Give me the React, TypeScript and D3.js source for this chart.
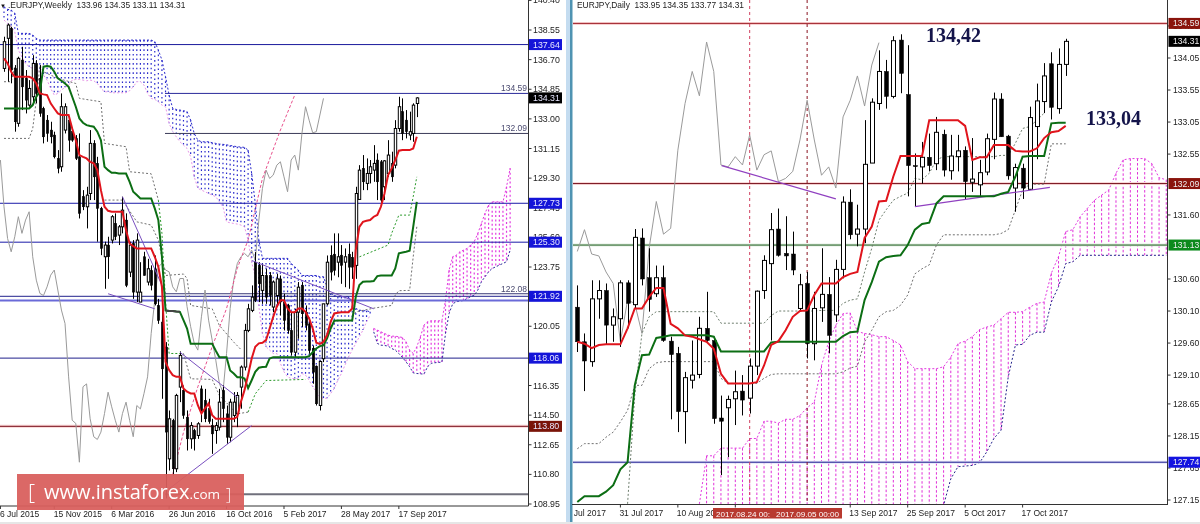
import React from 'react';
import * as d3 from 'd3';

type Bar = [number, number, number, number];
type Pt = [number, number];

// ---------- weekly panel data: [open, high, low, close] ----------
const weeklyBars: Bar[] = [
[136.15,138.13,135.94,137.82],[138.03,138.96,135.32,138.86],[138.65,138.75,135.22,136.05],[136.15,136.36,132.2,132.82],
[132.72,136.88,132.51,136.78],[136.67,137.5,133.55,135.0],[135.53,136.05,133.34,134.17],[133.86,135.42,133.76,134.9],
[134.38,136.98,133.97,136.46],[136.46,136.67,133.97,134.59],[135.53,136.36,133.13,133.34],[133.65,133.76,131.47,131.88],
[132.92,133.24,131.57,132.09],[132.3,132.82,131.47,131.88],[131.99,132.2,130.53,130.63],[130.53,131.05,129.6,129.91],
[130.01,134.59,129.7,133.76],[132.3,133.97,132.09,133.76],[132.92,133.13,130.95,131.67],[132.2,132.4,131.57,131.67],
[131.78,131.99,130.43,130.53],[130.63,132.09,126.78,127.1],[128.14,128.55,127.3,127.51],[127.51,128.76,126.16,128.24],
[128.34,132.3,127.93,131.47],[131.47,131.67,127.93,129.38],[130.22,130.63,125.33,127.41],[127.41,127.51,124.49,124.91],
[124.39,125.33,122.39,125.12],[125.12,125.64,123.01,124.39],[125.43,126.99,125.22,126.89],[126.47,127.1,125.43,125.64],
[125.74,126.37,125.12,126.26],[126.26,128.14,125.85,127.3],[126.68,127.1,122.49,122.6],[123.43,125.33,123.12,125.12],
[125.22,125.43,121.76,122.18],[122.18,125.85,121.56,125.43],[121.56,124.05,121.56,122.18],[124.39,124.7,123.22,123.22],
[122.81,124.26,122.6,123.64],[123.53,123.85,122.29,122.6],[123.64,124.47,121.35,121.45],[121.35,121.76,120.2,120.41],
[120.31,121.14,115.52,117.39],[118.75,119.06,109.3,113.44],[111.77,114.79,111.04,114.27],[114.16,114.27,110.73,111.15],
[111.15,115.83,110.94,115.73],[116.25,118.48,115.31,118.23],[116.04,116.35,114.27,114.48],[114.37,114.79,112.29,113.02],
[113.02,114.06,112.4,113.85],[113.54,113.65,112.29,113.02],[113.23,114.06,113.02,113.96],[116.14,116.35,114.06,114.69],
[115.41,116.14,114.06,114.27],[114.9,115.52,113.96,114.1],[113.85,114.27,112.08,113.33],[113.54,114.06,112.71,113.85],
[113.75,116.14,113.54,115.31],[116.04,116.35,114.06,114.9],[114.58,115.1,112.71,113.12],[113.12,115.52,112.81,115.31],
[114.48,115.94,114.06,115.31],[114.58,115.94,113.75,115.73],[116.25,117.6,114.9,117.5],[117.5,120.2,117.29,119.79],
[119.79,121.45,119.68,121.14],[121.04,122.6,120.93,121.87],[124.05,124.68,121.56,121.66],[123.85,124.05,121.56,122.7],
[122.29,123.95,121.45,123.22],[123.22,123.64,121.45,121.87],[123.22,123.43,121.35,121.97],[121.25,122.91,120.93,122.81],
[121.97,123.33,121.25,123.01],[123.01,123.22,120.72,121.56],[121.56,122.08,119.79,120.41],[121.35,121.45,119.58,119.79],
[119.79,120.93,118.22,118.43],[118.43,121.14,118.12,120.93],[120.93,122.81,119.27,122.49],[122.6,122.81,120.0,120.83],
[120.93,121.35,119.79,120.1],[120.2,120.41,118.33,118.54],[118.68,118.85,116.46,117.18],[117.56,117.6,115.1,115.21],
[115.1,117.91,114.79,117.85],[118.02,121.45,117.81,121.45],[121.45,124.47,121.35,124.05],[124.47,125.1,122.91,123.43],
[124.55,125.85,123.22,123.53],[124.05,125.85,123.11,124.39],[124.49,125.12,122.7,123.85],[124.05,124.91,122.49,124.39],
[124.55,125.22,122.39,123.74],[124.35,124.7,123.01,123.74],[123.85,128.76,123.01,128.34],[127.97,130.11,127.97,129.8],
[129.91,130.74,128.55,129.07],[128.97,130.53,128.55,129.59],[129.59,130.43,128.97,130.01],[129.8,131.36,129.07,130.22],
[130.43,130.84,127.93,129.07],[130.32,130.43,127.72,127.93],[128.76,130.43,127.93,130.38],[129.59,131.67,129.38,130.74],
[130.22,130.95,129.07,129.38],[130.11,132.92,129.91,132.4],[132.4,134.38,132.2,133.76],[133.45,134.28,131.67,132.09],
[132.92,133.55,131.78,132.2],[131.99,133.45,131.67,132.2],[132.09,133.97,131.57,133.86],[133.96,134.35,133.11,134.31],
];
const weeklyTenkan = [136.78,136.46,135.94,135.63,135.63,135.63,135.63,135.63,135.53,135.21,134.59,134.53,134.49,133.97,133.65,133.34,133.24,133.24,133.24,132.4,131.67,130.74,130.63,130.53,130.32,130.22,129.8,128.55,127.51,127.26,127.2,127.2,127.2,127.2,126.05,125.22,125.05,124.91,124.91,124.91,124.91,124.91,124.39,123.76,122.51,117.83,117.31,117.0,116.89,116.89,116.16,115.96,115.85,115.85,115.12,114.6,114.92,115.23,114.5,114.27,114.27,114.27,114.27,114.27,114.27,114.39,115.33,116.06,117.0,118.04,118.77,118.98,119.02,119.18,119.91,120.64,121.27,121.68,121.68,121.16,120.93,120.93,121.16,121.16,120.95,120.54,119.91,119.02,118.95,119.08,119.5,120.33,120.85,120.89,120.93,120.93,120.93,121.16,124.8,126.26,126.57,126.64,126.68,126.89,127.0,127.51,128.34,129.49,129.91,130.43,131.01,131.05,131.05,131.05,131.15,131.88];
const weeklyKijun = [133.65,133.65,133.65,133.65,133.65,133.65,133.65,133.65,133.86,134.38,134.69,136.26,136.3,136.26,135.94,135.53,135.38,135.21,135.0,134.38,133.76,133.03,132.76,132.61,132.55,132.51,132.2,131.67,130.01,129.8,129.63,129.63,129.59,129.59,129.59,129.07,128.45,128.24,128.03,128.03,128.03,128.03,127.41,126.68,124.39,121.04,121.0,121.0,120.97,120.95,120.43,119.91,118.95,118.95,118.95,118.95,118.95,118.95,118.95,118.52,118.12,118.12,118.12,117.29,117.1,116.87,116.87,116.79,116.18,116.68,117.2,117.46,117.5,117.52,118.04,118.12,118.12,118.12,118.12,118.12,118.12,118.12,118.12,118.12,118.12,118.18,118.43,118.66,118.81,118.85,119.29,119.91,120.39,120.41,120.41,120.41,120.41,120.41,121.89,122.62,122.83,122.85,122.85,122.87,123.18,123.22,123.22,123.22,123.22,123.66,124.6,124.66,124.7,124.76,126.26,127.82];
const weeklyChikouStart = -1;
const weeklyChikou = [130.43,127.51,125.53,124.7,125.64,126.89,125.85,126.68,127.2,124.39,122.93,122.1,121.97,122.51,123.24,123.56,122.31,121.06,120.22,116.89,114.18,113.98,111.56,116.27,116.45,114.27,113.15,112.98,113.44,114.6,115.93,115.02,114.18,113.44,114.6,115.31,114.18,113.15,115.1,114.89,115.85,116.89,119.6,121.68,123.76,123.97,123.56,123.45,122.51,122.2,123.03,123.03,121.27,120.02,118.98,118.56,120.64,122.31,120.43,119.18,117.93,116.48,115.93,118.35,121.16,122.93,123.97,124.39,124.6,124.39,124.8,124.18,126.68,128.66,129.8,129.28,129.49,130.11,130.32,129.38,128.45,130.43,130.74,129.8,132.09,133.76,132.92,132.13,132.2,133.24,134.28];
const weeklyCloudTop = [140.0,139.84,139.8,139.59,138.34,138.34,138.34,138.34,138.23,138.03,137.92,137.92,137.92,137.92,137.92,137.92,137.92,137.92,137.92,137.92,137.92,137.92,137.92,137.92,137.92,137.92,137.92,137.92,137.92,137.92,137.92,137.92,137.92,137.92,137.92,137.92,137.92,137.92,137.92,137.92,137.92,137.92,137.82,137.3,136.67,135.63,134.49,133.65,133.59,133.55,133.51,133.45,132.92,132.09,131.67,131.57,131.57,131.57,131.51,131.47,131.43,131.41,131.38,131.34,131.3,131.26,131.24,131.22,131.05,129.59,127.72,125.43,124.29,124.29,124.29,124.29,124.29,124.29,124.29,124.29,123.97,123.76,123.56,123.22,123.22,123.22,123.22,123.22,123.14,123.14,122.51,122.1,121.97,121.89,121.89,121.89,121.89,121.58,121.16,121.06,121.02,121.02,120.95,119.91,119.81,119.7,119.6,119.5,119.43,119.43,119.39,119.35,119.08,118.56,118.35,118.77,119.39,120.12,120.33,120.39,120.39,120.39,120.39,121.68,123.56,124.39,124.49,124.7,124.8,124.91,125.12,125.33,125.85,126.47,127.1,127.62,127.82,127.82,127.82,127.82,128.76,129.91];
const weeklyCloudBottom = [139.17,138.96,138.75,138.44,137.3,136.88,136.46,136.26,136.15,136.05,135.94,135.74,135.42,134.9,134.49,134.59,134.8,134.97,135.11,135.42,135.46,135.46,135.42,135.38,135.42,135.38,135.21,134.9,134.69,134.69,134.63,134.63,134.63,134.63,134.63,134.76,135.0,135.32,135.32,135.11,134.59,134.28,134.22,134.07,133.86,133.76,132.72,132.2,131.88,131.57,131.36,131.15,130.63,129.38,128.66,128.55,128.45,128.34,128.24,128.14,127.82,127.51,126.57,126.51,126.47,126.43,126.37,126.26,125.43,124.05,123.14,121.27,119.6,118.77,118.56,118.35,118.35,117.73,117.2,116.89,116.79,116.79,116.77,117.1,117.0,116.68,116.27,115.96,115.64,115.54,115.56,115.85,116.16,116.68,117.1,117.62,118.14,118.56,118.98,119.39,119.81,120.33,120.74,119.7,118.98,118.87,118.85,118.81,118.66,118.56,118.35,118.1,117.83,117.52,117.14,117.1,117.08,117.06,117.52,117.73,117.77,117.79,117.81,119.6,120.85,121.45,121.58,121.62,121.66,121.78,121.89,121.99,122.31,122.83,123.14,123.45,123.66,123.76,123.87,123.97,124.08,124.8];
const weeklyBlueCloudEnd = 102;
const weeklyDashGrayA: Pt[] = [[0,131.78],[7,131.78],[8,132.4],[9,134.17],[10,136.36],[11,135.94],[15,135.53],[20,135.21],[21,134.28],[27,134.07],[28,131.47],[34,131.26],[35,129.7],[41,129.57],[43,127.93]];
const weeklyDashTop: Pt[] = [[0,135.32],[2,135.32],[3,136.26]];
const weeklyDashGreen: Pt[] = [[43,127.93],[44,125.85],[45,121.58],[46,118.35],[50,118.35]];
const weeklyDashGrayB: Pt[] = [[50,118.35],[52,116.77],[58,116.73],[60,115.73],[65,114.58],[68,114.69]];
const weeklyDashGreenB: Pt[] = [[68,114.69],[70,115.83],[73,116.66],[84,116.73]];
const weeklyDashGreenC: Pt[] = [[98,124.29],[107,125.12],[108,125.85],[110,126.99],[113,126.99],[114,128.14],[115,129.38]];
const weeklyDashLower1: Pt[] = [[28,127.93],[33,127.93],[37,126.57],[41,126.37],[43,125.43],[45,123.22],[50,123.31],[51,123.03],[52,121.35],[58,121.14],[60,120.1],[64,119.06],[66,118.6]];
const weeklyDashLower2: Pt[] = [[97,120.64],[98,120.95],[103,121.18],[108,121.35],[109,122.0],[110,122.27],[113,122.29],[114,124.39],[115,126.26]];
const weeklyPinkDash: Pt[] = [[47,110.8],[50,113.42],[54,116.27],[58,118.77],[62,121.16],[65,123.66],[66,124.28],[68,125.43],[72,129.28],[77,132.3],[81,134.49]];
const weeklyTrends: [Pt, Pt][] = [
  [[33,128.14],[45,122.1]],
  [[29,122.08],[42,121.14]],
  [[49,118.43],[65,115.62]],
  [[46,109.9],[69,113.85]],
  [[69,124.16],[103,121.14]],
];
const weeklyTickIndex = [-1,14,30,46,62,78,94,110];
const weeklyTickLabels = ['6 Jul 2015','15 Nov 2015','6 Mar 2016','26 Jun 2016','16 Oct 2016','5 Feb 2017','28 May 2017','17 Sep 2017'];
const weeklyAxisTicks = [140.40,138.55,136.70,134.85,133.00,131.15,129.30,127.45,125.60,123.75,121.90,120.05,116.35,114.50,112.65,110.80,108.95];
const weeklyFullLevels: [number,string,number][] = [[137.64,'#1a1a9c',1],[127.73,'#1a1aa8',1],[125.30,'#1a1aa8',1],[121.92,'#22228c',1],[121.66,'#6a6ad8',2],[118.06,'#20208c',1]];
const weeklyPartLevels: [number,string,number][] = [[134.59,'#2a2a9a',1],[132.09,'#3a3a58',1],[122.08,'#3a3a78',1],[109.56,'#70707c',2]];
const weeklyFlags: [number,string,string][] = [[137.64,'#1414d8','137.64'],[134.31,'#000000','134.31'],[127.73,'#1414d8','127.73'],[125.30,'#1414d8','125.30'],[121.92,'#1414d8','121.92'],[118.06,'#1414d8','118.06'],[113.80,'#7a1408','113.80']];
const weeklyNotes: [number,string][] = [[134.59,'134.59'],[132.09,'132.09'],[122.08,'122.08']];

// ---------- daily panel data ----------
const dailyBars: Bar[] = [
[130.16,130.5,129.46,129.62],[129.62,129.75,128.85,129.32],[129.31,130.58,129.23,130.29],[130.29,130.58,129.98,130.42],
[130.42,130.53,129.57,129.88],[129.88,130.14,129.62,130.01],[129.98,130.58,129.54,130.54],[130.54,130.58,129.83,130.22],
[130.2,131.38,130.14,131.25],[131.24,131.39,130.5,130.6],[130.62,131.08,130.09,130.28],[130.37,130.81,130.32,130.62],
[130.62,130.81,129.62,129.64],[129.63,129.7,128.41,129.42],[129.44,129.54,128.21,128.53],[128.53,129.15,128.03,129.06],
[129.02,129.64,128.89,129.1],[129.11,130.01,129.05,129.83],[129.83,130.4,129.62,129.64],[129.64,129.7,128.34,128.42],
[128.43,128.78,127.54,128.38],[128.59,128.78,127.82,128.72],[128.73,129.17,128.32,128.84],[128.85,129.1,128.47,128.71],
[128.74,129.36,128.5,129.24],[129.24,130.42,129.1,130.41],[130.42,130.97,130.29,130.89],[130.84,131.63,129.64,131.37],
[131.38,131.7,130.95,130.97],[131.0,131.58,130.74,130.96],[130.99,131.34,130.66,130.74],[130.14,130.68,130.09,130.51],
[130.53,130.71,129.36,129.59],[129.59,130.4,129.33,130.14],[130.15,131.08,129.93,130.36],[130.36,130.63,129.44,129.72],
[130.04,130.9,129.93,130.75],[130.75,131.89,130.61,131.8],[131.8,132.0,131.22,131.29],[131.3,131.76,131.11,131.38],
[131.38,133.08,131.16,132.39],[132.41,133.42,132.41,133.36],[133.34,134.17,133.24,133.84],[133.84,134.02,133.26,133.45],
[133.45,134.39,133.42,134.32],[134.33,134.42,133.5,133.81],[133.48,134.25,131.89,132.37],[132.37,132.56,131.73,132.36],
[132.35,132.74,132.09,132.5],[132.5,132.87,132.28,132.37],[132.4,133.13,132.3,132.89],[132.86,132.93,132.2,132.3],
[132.29,132.85,132.15,132.52],[132.51,132.85,132.28,132.6],[132.61,132.67,131.84,132.12],[132.11,132.8,131.96,132.16],
[132.07,132.46,131.89,132.26],[132.27,132.87,132.22,132.79],[132.78,133.51,132.47,133.41],[133.41,133.5,132.82,132.82],
[132.83,132.85,132.15,132.21],[132.02,132.4,131.65,132.34],[132.33,132.4,131.85,132.02],[132.0,133.29,131.99,133.12],
[132.98,133.65,132.47,133.38],[133.37,133.97,133.19,133.77],[133.96,134.14,133.09,133.28],[133.26,134.2,133.18,133.95],
[133.95,134.35,133.77,134.31],
];
const dailyTenkan = [129.62,129.59,129.52,129.57,129.58,129.58,129.58,129.83,130.14,130.14,130.32,130.46,130.46,129.9,129.83,129.72,129.7,129.66,129.62,129.51,129.12,128.97,128.97,128.97,128.97,128.99,129.25,129.57,129.63,129.8,130.01,130.1,130.11,130.35,130.53,130.53,130.53,130.63,130.68,130.71,131.24,131.42,131.81,131.82,132.2,132.52,132.52,132.52,132.52,133.08,133.08,133.08,133.08,133.08,132.99,132.46,132.5,132.5,132.69,132.69,132.69,132.6,132.59,132.59,132.64,132.8,132.89,132.91,132.99];
const dailyKijun = [127.12,127.21,127.21,127.21,127.28,127.38,127.63,127.74,128.94,129.41,129.42,129.68,129.7,129.72,129.72,129.72,129.72,129.72,129.72,129.7,129.47,129.47,129.47,129.47,129.47,129.47,129.47,129.61,129.62,129.62,129.62,129.62,129.62,129.62,129.62,129.62,129.62,129.71,129.77,129.78,130.27,130.55,130.87,130.94,130.96,130.97,131.13,131.37,131.46,131.48,131.78,131.89,131.89,131.89,131.89,131.89,131.89,131.89,131.89,131.93,131.96,132.2,132.51,132.52,132.52,132.52,133.03,133.04,133.04];
const dailyChikou = [131.03,131.37,130.99,130.96,130.71,130.53,129.62,130.27,130.22,129.75,131.08,131.81,131.3,131.39,132.61,133.34,133.84,133.46,134.3,133.84,132.38,132.35,132.51,132.38,132.85,132.3,132.54,132.6,132.12,132.17,132.28,132.77,133.39,132.77,132.22,132.35,132.02,133.13,133.39,133.77,133.3,133.94,134.29];
const dailySpanStart = 17;
const dailySpanA = [127.09,127.84,127.84,127.96,127.96,127.96,127.96,128.11,128.11,128.38,128.38,128.35,128.41,128.41,128.47,128.59,128.68,129.25,129.62,129.88,130.06,130.07,129.78,129.75,129.73,129.7,129.7,129.64,129.57,129.31,129.2,129.2,129.2,129.2,129.23,129.38,129.59,129.63,129.7,129.81,129.85,129.88,129.98,130.08,130.08,130.09,130.16,130.22,130.24,130.69,130.95,131.34,131.37,131.57,131.7,131.83,131.91,131.99,132.25,132.46,132.48,132.48,132.48,132.4,132.18,132.15];
const dailySpanB = [126.9,126.9,126.9,126.9,126.9,126.9,126.9,126.9,126.9,126.9,126.9,126.9,126.9,126.9,126.9,126.9,126.9,126.9,126.9,126.9,126.9,126.9,126.9,126.9,126.9,126.9,126.9,126.9,126.9,126.9,126.9,126.9,126.9,126.9,127.07,127.48,127.67,127.68,127.69,127.73,127.9,128.11,128.24,129.07,129.57,129.58,129.72,129.77,129.77,130.24,130.48,130.84,130.87,130.97,130.97,130.97,130.97,130.97,130.97,130.97,130.97,130.97,130.97,130.97,130.97,130.97];
const dailyDash1Start = 7;
const dailyDash1 = [127.09,128.78,129.75,130.01,130.09,130.09,130.09,130.09,130.09,130.09,130.09,130.09,130.09,129.91,129.91,129.91,129.91,129.91,129.91,129.91,130.03,130.1,130.1,130.1,130.1,130.1,130.1,130.11,130.11,130.11,130.22,130.27,130.29,130.71,131.08,131.52,131.68,131.83,131.89,131.94,132.17,132.15,132.25,132.46,132.51,132.51,132.51,132.51,132.51,132.51,132.51,132.51,132.53,132.53,132.72,132.95,132.98,133.08,133.19];
const dailyDash2 = [127.95,128.03,128.03,128.03,128.13,128.21,128.37,128.55,128.94,128.94,129.2,129.29,129.31,129.31,129.31,129.31,129.31,129.31,129.31,129.31,129.05,128.97,128.97,128.97,128.97,128.97,129.05,129.11,129.12,129.12,129.12,129.12,129.12,129.12,129.12,129.12,129.12,129.15,129.21,129.24,129.62,129.8,130.01,130.09,130.11,130.19,130.35,130.68,130.76,130.82,131.13,131.29,131.29,131.29,131.29,131.29,131.29,131.29,131.29,131.31,131.37,131.68,131.99,132.08,132.08,132.08,132.71,132.71,132.71];
const dailyTrends: [Pt, Pt][] = [[[20.1,132.37],[36,131.85]],[[47,131.73],[65.8,132.03]]];
const dailyTickIndex = [-2,6,14,22,38,46,54,62];
const dailyTickLabels = ['19 Jul 2017','31 Jul 2017','10 Aug 2017','','13 Sep 2017','25 Sep 2017','5 Oct 2017','17 Oct 2017'];
const dailyAxisTicks = [134.55,134.05,133.55,133.05,132.55,131.60,130.60,130.10,129.60,129.10,128.65,128.15,127.65,127.15];
const dailyFlags: [number,string,string][] = [[134.59,'#8a140c','134.59'],[134.31,'#000000','134.31'],[132.09,'#8a140c','132.09'],[131.13,'#0c8a1c','131.13'],[127.74,'#1414e0','127.74']];
const dailyLevels: [number,string,string][] = [[134.59,'#a0242c','#f8d0d0'],[132.09,'#7a1420','#f8d8d8'],[131.13,'#1a5a1a','#e4f0e4'],[127.74,'#1c1c90','#e4e4f8']];
const dailyVLines = [24,32];
const dailyVLabels = ['2017.08.24 00:','2017.09.05 00:00'];
const dailyNotes: [number,number,string][] = [[926,42,'134,42'],[1086,125,'133,04']];

const SANS = '"Liberation Sans", Arial, sans-serif';
const WIDTH = 1200, HEIGHT = 524;

function poly(points: Pt[], x: (n:number)=>number, y: (n:number)=>number) {
  return d3.line<Pt>().x(d => x(d[0])).y(d => y(d[1]))(points) || '';
}

function Candles({bars, x, y, w}: {bars: Bar[]; x:(n:number)=>number; y:(n:number)=>number; w:number}) {
  return <g>
    {bars.map(([o,h,l,c],i) => {
      const cx = Math.round(x(i)) + 0.5;
      const t = y(Math.max(o,c)), b = y(Math.min(o,c));
      const bull = c >= o;
      return <g key={i}>
        <line x1={cx} x2={cx} y1={y(h)} y2={y(l)} stroke="#000" strokeWidth={1}/>
        <rect x={cx - w/2} y={t} width={w} height={Math.max(b - t, 1)} fill={bull ? '#fff' : '#000'} stroke="#000" strokeWidth={bull ? 1 : 0.5}/>
      </g>;
    })}
  </g>;
}

export default function App() {
  const wx = d3.scaleLinear().domain([0,115]).range([4,416.8]);
  const wy = d3.scaleLinear().domain([108.95,138.55]).range([504,30]);
  const dx = d3.scaleLinear().domain([0,68]).range([577.3,1065.7]);
  const dy = d3.scaleLinear().domain([127.15,134.05]).range([500,58]);
  const series = (v:number[], start=0): Pt[] => v.map((p,i) => [i+start,p]);
  const wTop = series(weeklyCloudTop), wBot = series(weeklyCloudBottom);
  const dA = series(dailySpanA,dailySpanStart), dB = series(dailySpanB,dailySpanStart);
  const kijun = series(weeklyKijun);
  return (
    <svg width={WIDTH} height={HEIGHT} viewBox={`0 0 ${WIDTH} ${HEIGHT}`} style={{position:'fixed',left:0,top:0,display:'block',background:'#fff',filter:'blur(0.3px)'}}>
      <defs>
        <clipPath id="cw"><rect x={0} y={0} width={528} height={506}/></clipPath>
        <clipPath id="cd"><rect x={573} y={0} width={594} height={504.5}/></clipPath>
        <clipPath id="cdl"><rect x={573} y={505} width={627} height={19}/></clipPath>
      </defs>
      <rect width={WIDTH} height={HEIGHT} fill="#fff"/>

      {/* weekly panel */}
      <g clipPath="url(#cw)">
        {wTop.map(([i,t]) => {
          const blue = i <= weeklyBlueCloudEnd;
          return <line key={i} x1={wx(i)} x2={wx(i)} y1={wy(t)} y2={wy(weeklyCloudBottom[i])} stroke={blue ? '#2a2acc' : '#e23ae0'} strokeWidth={1.2} strokeDasharray={blue ? '1.6 3' : '2 2.4'}/>;
        })}
        <path d={poly(wTop.slice(0,weeklyBlueCloudEnd+1),wx,wy)} fill="none" stroke="#2a2acc" strokeDasharray="2 2"/>
        <path d={poly(wBot.slice(0,weeklyBlueCloudEnd+1),wx,wy)} fill="none" stroke="#e896e8" strokeDasharray="2 2"/>
        <path d={poly(wTop.slice(weeklyBlueCloudEnd+1),wx,wy)} fill="none" stroke="#e23ae0" strokeDasharray="2 2"/>
        <path d={poly(wBot.slice(weeklyBlueCloudEnd+1),wx,wy)} fill="none" stroke="#2a2a9c" strokeDasharray="2 2"/>

        {weeklyFullLevels.map(([p,c,w]) => <line key={p} x1={0} x2={528} y1={wy(p)} y2={wy(p)} stroke={c} strokeWidth={w}/>)}
        {weeklyPartLevels.map(([p,c,w]) => <line key={p} x1={165} x2={528} y1={wy(p)} y2={wy(p)} stroke={c} strokeWidth={w}/>)}
        <line x1={0} x2={528} y1={wy(113.8)} y2={wy(113.8)} stroke="#f8d0d0" strokeWidth={3}/>
        <line x1={0} x2={528} y1={wy(113.8)} y2={wy(113.8)} stroke="#7a1420" strokeWidth={1}/>

        <path d={poly(series(weeklyChikou,weeklyChikouStart),wx,wy)} fill="none" stroke="#9a9a9a" strokeWidth={1}/>
        {[weeklyDashTop,weeklyDashGrayA,weeklyDashGrayB,weeklyDashLower1,weeklyDashLower2].map((s,i) =>
          <path key={i} d={poly(s,wx,wy)} fill="none" stroke="#707070" strokeDasharray="2 2"/>)}
        {[weeklyDashGreen,weeklyDashGreenB,weeklyDashGreenC].map((s,i) =>
          <path key={i} d={poly(s,wx,wy)} fill="none" stroke="#2a9a2a" strokeDasharray="2 2"/>)}
        <path d={poly(weeklyPinkDash,wx,wy)} fill="none" stroke="#e8508c" strokeDasharray="3 2"/>

        <Candles bars={weeklyBars} x={wx} y={wy} w={2.4}/>
        {weeklyTrends.map((t,i) => <path key={i} d={poly(t,wx,wy)} fill="none" stroke="#7a50c0" strokeWidth={1}/>)}
        <path d={poly(kijun,wx,wy)} fill="none" stroke="#0c6e14" strokeWidth={2}/>
        <path d={poly(kijun.slice(45,50),wx,wy)} fill="none" stroke="#444" strokeWidth={2}/>
        <path d={poly(series(weeklyTenkan),wx,wy)} fill="none" stroke="#e0141c" strokeWidth={2}/>
      </g>
      <line x1={0} x2={528.5} y1={506} y2={506} stroke="#333"/>
      <line x1={528.5} x2={528.5} y1={0} y2={506} stroke="#333"/>
      {weeklyTickIndex.map((t,i) => <g key={t}>
        <line x1={wx(t)} x2={wx(t)} y1={506} y2={509} stroke="#333"/>
        <text x={wx(t)-0.4} y={517} fontFamily={SANS} fontSize={8.5} fill="#222">{weeklyTickLabels[i]}</text>
      </g>)}
      {weeklyAxisTicks.map(p => <g key={p}>
        <line x1={528.5} x2={531.5} y1={wy(p)} y2={wy(p)} stroke="#333"/>
        <text x={533} y={wy(p)+3} fontFamily={SANS} fontSize={8.8} fill="#222">{p.toFixed(2)}</text>
      </g>)}
      {weeklyFlags.map(([p,c,t]) => <g key={t}>
        <rect x={529} y={wy(p)-5.5} width={33} height={11} fill={c}/>
        <text x={533} y={wy(p)+3} fontFamily={SANS} fontSize={8.8} fill="#e8e8ff">{t}</text>
      </g>)}
      {weeklyNotes.map(([p,t]) => <text key={t} x={527} y={wy(p)-2} textAnchor="end" fontFamily={SANS} fontSize={8.5} fill="#4a4a70">{t}</text>)}
      <text x={0} y={8} fontFamily={SANS} fontSize={6} fill="#111">▼</text>
      <text x={8} y={8} fontFamily={SANS} fontSize={8.4} fill="#222" xmlSpace="preserve">.EURJPY,Weekly  133.96 134.35 133.11 134.31</text>

      {/* divider between panels */}
      <rect x={566} y={0} width={4} height={HEIGHT} fill="#c4dcf0"/>
      <rect x={570} y={0} width={2.5} height={HEIGHT} fill="#4f93b2"/>

      {/* daily panel */}
      <g clipPath="url(#cd)">
        {dA.map(([i,a],k) => <line key={i} x1={dx(i)} x2={dx(i)} y1={dy(a)} y2={dy(dailySpanB[k])} stroke="#e030d8" strokeWidth={1} strokeDasharray="2.5 2"/>)}
        <path d={poly(dA,dx,dy)} fill="none" stroke="#e23ae0" strokeDasharray="2 2"/>
        <path d={poly(dB,dx,dy)} fill="none" stroke="#24248c" strokeDasharray="2 2"/>
        {dailyLevels.map(([p,c,h]) => <g key={p}>
          <line x1={573} x2={1167} y1={dy(p)} y2={dy(p)} stroke={h} strokeWidth={3}/>
          <line x1={573} x2={1167} y1={dy(p)} y2={dy(p)} stroke={c} strokeWidth={1}/>
        </g>)}
        {dailyVLines.map((i,k) => <line key={i} x1={dx(i)} x2={dx(i)} y1={0} y2={505} stroke={k ? '#8a1420' : '#d04060'} strokeWidth={1} strokeDasharray="3 3"/>)}
        <path d={poly(series(dailyChikou),dx,dy)} fill="none" stroke="#9a9a9a" strokeWidth={1}/>
        <path d={poly(series(dailyDash1,dailyDash1Start),dx,dy)} fill="none" stroke="#6f7f6f" strokeDasharray="2 2"/>
        <path d={poly(series(dailyDash2),dx,dy)} fill="none" stroke="#6f6f6f" strokeDasharray="2 2"/>
        <Candles bars={dailyBars} x={dx} y={dy} w={4}/>
        {dailyTrends.map((t,i) => <path key={i} d={poly(t,dx,dy)} fill="none" stroke="#9040c0" strokeWidth={1.2}/>)}
        <path d={poly(series(dailyKijun),dx,dy)} fill="none" stroke="#0c6e14" strokeWidth={2}/>
        <path d={poly(series(dailyTenkan),dx,dy)} fill="none" stroke="#e0141c" strokeWidth={2}/>
      </g>
      <line x1={572} x2={1167.5} y1={504.5} y2={504.5} stroke="#333"/>
      <line x1={1167.5} x2={1167.5} y1={0} y2={505} stroke="#333"/>
      {dailyTickIndex.map((t,i) => <g key={t} clipPath="url(#cdl)">
        <line x1={dx(t)} x2={dx(t)} y1={504.5} y2={507.5} stroke="#333"/>
        {dailyTickLabels[i] ? <text x={dx(t)-1} y={516} fontFamily={SANS} fontSize={8.5} fill="#222">{dailyTickLabels[i]}</text> : null}
      </g>)}
      {dailyVLabels.map((t,i) => <g key={t}>
        <rect x={i ? 775 : 713} y={508} width={i ? 67 : 62} height={10.5} fill="#b83a30"/>
        <text x={i ? 776 : 716} y={516.5} fontFamily={SANS} fontSize={8.1} fill="#fff">{t}</text>
      </g>)}
      {dailyAxisTicks.map(p => <g key={p}>
        <line x1={1167.5} x2={1170.5} y1={dy(p)} y2={dy(p)} stroke="#333"/>
        <text x={1173} y={dy(p)+3} fontFamily={SANS} fontSize={8.6} fill="#222">{p.toFixed(2)}</text>
      </g>)}
      {dailyFlags.map(([p,c,t]) => <g key={t}>
        <rect x={1168.5} y={dy(p)-5.5} width={31.5} height={11} fill={c}/>
        <text x={1173} y={dy(p)+3} fontFamily={SANS} fontSize={8.6} fill="#eee">{t}</text>
      </g>)}
      <text x={577} y={8} fontFamily={SANS} fontSize={8.4} fill="#222" xmlSpace="preserve">EURJPY,Daily  133.95 134.35 133.77 134.31</text>
      {dailyNotes.map(([x,y,t]) => <text key={t} x={x} y={y} fontFamily='"Liberation Serif", serif' fontWeight="bold" fontSize={20} fill="#14144a">{t}</text>)}
      <rect x={0} y={522} width={WIDTH} height={2} fill="#e6e6e6"/>

      {/* watermark */}
      <rect x={17} y={474} width={227} height={36} fill="#d95f5c" opacity={0.94}/>
      <text x={28} y={500} fontFamily='"Open Sans", sans-serif' fontSize={22} fontWeight={300} fill="#fff">[</text>
      <text x={44} y={499} fontFamily='"Open Sans", sans-serif' fontSize={20} fill="#fff">www.instaforex<tspan fontSize={13.5}>.com</tspan></text>
      <text x={226} y={500} fontFamily='"Open Sans", sans-serif' fontSize={16} fontWeight={300} fill="#fff">]</text>
    </svg>
  );
}
